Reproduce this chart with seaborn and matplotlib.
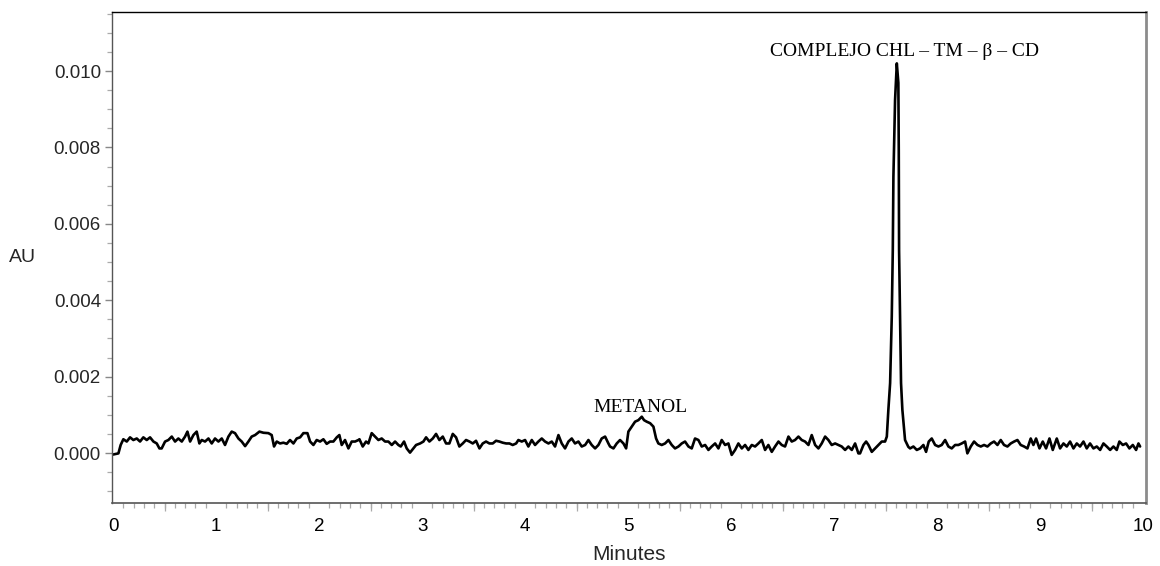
import matplotlib
matplotlib.use("Agg")
import matplotlib.pyplot as plt
from matplotlib.ticker import MultipleLocator, FormatStrFormatter
import seaborn as sns
import pandas as pd

# Chromatogram trace: retention time (min) and absorbance (AU)
time_min = [
    0.000, 0.052, 0.074, 0.100, 0.133, 0.165, 0.197, 0.230, 0.262, 0.294,
    0.327, 0.359, 0.392, 0.424, 0.450, 0.472, 0.505, 0.537, 0.570, 0.602,
    0.634, 0.667, 0.699, 0.722, 0.748, 0.780, 0.812, 0.838, 0.861, 0.893,
    0.926, 0.958, 0.990, 1.023, 1.055, 1.087, 1.120, 1.152, 1.184, 1.217,
    1.249, 1.282, 1.314, 1.346, 1.379, 1.421, 1.460, 1.508, 1.540, 1.563,
    1.589, 1.621, 1.654, 1.686, 1.718, 1.751, 1.783, 1.816, 1.848, 1.887,
    1.913, 1.945, 1.977, 2.010, 2.042, 2.074, 2.107, 2.139, 2.172, 2.197,
    2.220, 2.252, 2.285, 2.317, 2.350, 2.382,
    2.392, 2.424, 2.456, 2.479, 2.511, 2.544, 2.576, 2.608, 2.641, 2.673,
    2.706, 2.738, 2.770, 2.793, 2.825, 2.851, 2.883, 2.916, 2.942, 2.981,
    3.013, 3.039, 3.071, 3.104, 3.136, 3.168, 3.201, 3.233, 3.265, 3.298,
    3.330, 3.362, 3.395, 3.427, 3.460, 3.492, 3.524, 3.557, 3.589, 3.621,
    3.654, 3.686, 3.718, 3.751, 3.783, 3.816, 3.848, 3.880, 3.913, 3.935,
    3.968, 4.000, 4.032, 4.065, 4.097, 4.129, 4.162, 4.194, 4.227, 4.259,
    4.291, 4.324, 4.356, 4.388, 4.421, 4.453, 4.485, 4.518, 4.550, 4.583,
    4.615, 4.647, 4.680, 4.712, 4.744, 4.777, 4.809,
    4.825, 4.858, 4.890, 4.922, 4.955, 4.981, 5.003, 5.035, 5.068, 5.100,
    5.133, 5.155, 5.181, 5.214, 5.246, 5.272, 5.294, 5.327, 5.359, 5.392,
    5.424, 5.456, 5.489, 5.521, 5.553, 5.586, 5.618, 5.650, 5.683, 5.715,
    5.748, 5.780, 5.812, 5.845, 5.877, 5.909, 5.942, 5.974, 6.006, 6.039,
    6.071, 6.104, 6.136, 6.168, 6.201, 6.233, 6.265, 6.298, 6.330, 6.362,
    6.395, 6.427, 6.460, 6.492, 6.524, 6.557, 6.589, 6.621, 6.654, 6.686,
    6.718, 6.751, 6.783, 6.816, 6.848, 6.880, 6.913, 6.945, 6.977, 7.010,
    7.042, 7.074, 7.107, 7.139, 7.172, 7.204, 7.236,
    7.252, 7.285, 7.311, 7.334, 7.366, 7.398, 7.431, 7.463, 7.495,
    7.512, 7.527, 7.544, 7.560, 7.570, 7.576, 7.592, 7.609, 7.624, 7.628,
    7.631, 7.641, 7.650, 7.663, 7.689, 7.721,
    7.738, 7.770, 7.803, 7.835, 7.867, 7.893, 7.919, 7.948, 7.981, 8.013,
    8.045, 8.078, 8.110, 8.142, 8.175, 8.207, 8.239, 8.272, 8.294, 8.327,
    8.359, 8.392, 8.424, 8.456, 8.489, 8.521, 8.553, 8.586, 8.618, 8.650,
    8.683, 8.715, 8.748, 8.780, 8.812, 8.845, 8.877, 8.909, 8.935, 8.961,
    8.994, 9.026, 9.058, 9.091, 9.123, 9.162, 9.194, 9.227, 9.259, 9.291,
    9.324, 9.356, 9.388, 9.421, 9.453, 9.485, 9.518, 9.550, 9.583, 9.615,
    9.647, 9.680, 9.712, 9.744, 9.770, 9.803, 9.835, 9.867, 9.900, 9.932,
    9.955, 9.971,
]

absorbance_au = [
    -0.00004, -0.00001, 0.00021, 0.00036, 0.00030, 0.00041, 0.00034, 0.00038, 0.00030, 0.00041,
    0.00034, 0.00041, 0.00030, 0.00025, 0.00012, 0.00012, 0.00030, 0.00034, 0.00043, 0.00030,
    0.00038, 0.00030, 0.00043, 0.00056, 0.00030, 0.00047, 0.00056, 0.00025, 0.00034, 0.00030,
    0.00038, 0.00025, 0.00038, 0.00030, 0.00038, 0.00021, 0.00043, 0.00056, 0.00052, 0.00038,
    0.00030, 0.00018, 0.00030, 0.00043, 0.00047, 0.00056, 0.00053, 0.00052, 0.00047, 0.00017,
    0.00030, 0.00025, 0.00027, 0.00024, 0.00034, 0.00025, 0.00038, 0.00041, 0.00052, 0.00052,
    0.00030, 0.00021, 0.00034, 0.00030, 0.00036, 0.00024, 0.00030, 0.00030, 0.00041, 0.00047,
    0.00021, 0.00034, 0.00012, 0.00030, 0.00030, 0.00034,
    0.00036, 0.00017, 0.00030, 0.00025, 0.00052, 0.00043, 0.00034, 0.00038, 0.00030, 0.00030,
    0.00021, 0.00030, 0.00021, 0.00017, 0.00030, 0.00012, 0.00001, 0.00012, 0.00021, 0.00025,
    0.00030, 0.00041, 0.00030, 0.00038, 0.00050, 0.00034, 0.00043, 0.00025, 0.00025, 0.00050,
    0.00041, 0.00017, 0.00025, 0.00034, 0.00030, 0.00025, 0.00032, 0.00012, 0.00025, 0.00030,
    0.00025, 0.00025, 0.00032, 0.00030, 0.00027, 0.00025, 0.00025, 0.00021, 0.00025, 0.00034,
    0.00030, 0.00034, 0.00017, 0.00034, 0.00021, 0.00030, 0.00038, 0.00030, 0.00025, 0.00030,
    0.00017, 0.00047, 0.00025, 0.00012, 0.00030, 0.00038, 0.00025, 0.00030, 0.00017, 0.00021,
    0.00034, 0.00021, 0.00012, 0.00021, 0.00038, 0.00043, 0.00025,
    0.00017, 0.00012, 0.00025, 0.00034, 0.00025, 0.00012, 0.00056, 0.00069, 0.00082, 0.00086,
    0.00095, 0.00086, 0.00082, 0.00078, 0.00069, 0.00038, 0.00025, 0.00021, 0.00025, 0.00034,
    0.00021, 0.00012, 0.00017, 0.00025, 0.00030, 0.00017, 0.00012, 0.00038, 0.00034, 0.00017,
    0.00021, 0.00008, 0.00017, 0.00025, 0.00012, 0.00034, 0.00021, 0.00025, -0.00005, 0.00008,
    0.00025, 0.00012, 0.00021, 0.00008, 0.00021, 0.00017, 0.00025, 0.00034, 0.00008, 0.00021,
    0.00003, 0.00017, 0.00030, 0.00021, 0.00017, 0.00043, 0.00030, 0.00034, 0.00043, 0.00034,
    0.00030, 0.00021, 0.00047, 0.00021, 0.00012, 0.00025, 0.00043, 0.00034, 0.00021, 0.00025,
    0.00021, 0.00017, 0.00008, 0.00017, 0.00008, 0.00025, -0.00001,
    -0.00001, 0.00021, 0.00030, 0.00021, 0.00003, 0.00012, 0.00021, 0.00030, 0.00030,
    0.00043, 0.00113, 0.00183, 0.00357, 0.00531, 0.00723, 0.00924, 0.01020, 0.00969, 0.00793,
    0.00531, 0.00357, 0.00183, 0.00113, 0.00034, 0.00016,
    0.00012, 0.00017, 0.00008, 0.00012, 0.00021, 0.00003, 0.00030, 0.00038, 0.00021, 0.00017,
    0.00021, 0.00034, 0.00017, 0.00012, 0.00021, 0.00021, 0.00025, 0.00030, -0.00001, 0.00017,
    0.00030, 0.00021, 0.00017, 0.00021, 0.00017, 0.00025, 0.00030, 0.00021, 0.00034, 0.00021,
    0.00017, 0.00025, 0.00030, 0.00034, 0.00021, 0.00017, 0.00012, 0.00038, 0.00021, 0.00038,
    0.00012, 0.00030, 0.00012, 0.00038, 0.00008, 0.00038, 0.00012, 0.00025, 0.00017, 0.00030,
    0.00012, 0.00025, 0.00017, 0.00030, 0.00012, 0.00025, 0.00012, 0.00017, 0.00008, 0.00025,
    0.00017, 0.00008, 0.00017, 0.00008, 0.00030, 0.00021, 0.00025, 0.00012, 0.00021, 0.00008,
    0.00025, 0.00017,
]

# Peak labels: (text, time, absorbance position)
peak_labels = ["METANOL", "COMPLEJO CHL \u2013 TM \u2013 \u03b2 \u2013 CD"]
peak_label_x = [5.12, 7.68]
peak_label_y = [0.00120, 0.01052]

x_ticks = list(range(0, 11))
y_ticks = [0.000, 0.002, 0.004, 0.006, 0.008, 0.010]

sns.set_style("white")
plt.rcParams["font.family"] = ["Liberation Sans", "DejaVu Sans"]

df = pd.DataFrame({"Minutes": time_min, "AU": absorbance_au})

fig = plt.figure(figsize=(11.6, 5.66), dpi=100)
ax = fig.add_axes([0.0966, 0.1113, 0.8914, 0.8675])

sns.lineplot(data=df, x="Minutes", y="AU", ax=ax, color="black",
             linewidth=1.9, sort=False, estimator=None)

ax.set_xlim(-0.0097, 10.029)
ax.set_ylim(-0.001309, 0.011545)

ax.set_xticks(x_ticks)
ax.xaxis.set_minor_locator(MultipleLocator(0.1))
ax.set_yticks(y_ticks)
ax.yaxis.set_major_formatter(FormatStrFormatter("%.3f"))
ax.yaxis.set_minor_locator(MultipleLocator(0.0005))

ax.tick_params(axis="x", which="major", length=0, pad=11, labelsize=13.5,
               labelcolor="black")
ax.tick_params(axis="x", which="minor", bottom=True, length=3.5, width=0.9,
               color="#aaaaaa", direction="out")
ax.tick_params(axis="y", which="major", left=True, length=5, width=1.0,
               color="#888888", pad=3, labelsize=13.5, direction="out")
ax.tick_params(axis="y", which="minor", left=True, length=3.5, width=0.9,
               color="#aaaaaa", direction="out")

# Longer marks at the half-minute positions
half = ax.secondary_xaxis("bottom")
half.set_xticks([i + 0.5 for i in range(10)])
half.tick_params(axis="x", length=6, width=0.9, color="#aaaaaa",
                 labelbottom=False, direction="out")
half.spines["bottom"].set_visible(False)

for name, sp in ax.spines.items():
    sp.set_visible(True)
ax.spines["top"].set_color("black")
ax.spines["top"].set_linewidth(1.0)
ax.spines["left"].set_color("#555555")
ax.spines["left"].set_linewidth(1.0)
ax.spines["bottom"].set_color("#555555")
ax.spines["bottom"].set_linewidth(1.2)
ax.spines["right"].set_color("#8c8c8c")
ax.spines["right"].set_linewidth(2.0)

ax.set_xlabel("Minutes", fontsize=15, labelpad=7)
ax.set_ylabel("AU", fontsize=14, rotation=0, ha="center", va="center")
ax.yaxis.set_label_coords(-0.087, 0.5)

for text, tx, ty in zip(peak_labels, peak_label_x, peak_label_y):
    ax.text(tx, ty, text, ha="center", va="center", fontsize=14,
            family=["Liberation Serif", "DejaVu Serif"], color="black")

fig.savefig("out.png", dpi=100, facecolor="white")
